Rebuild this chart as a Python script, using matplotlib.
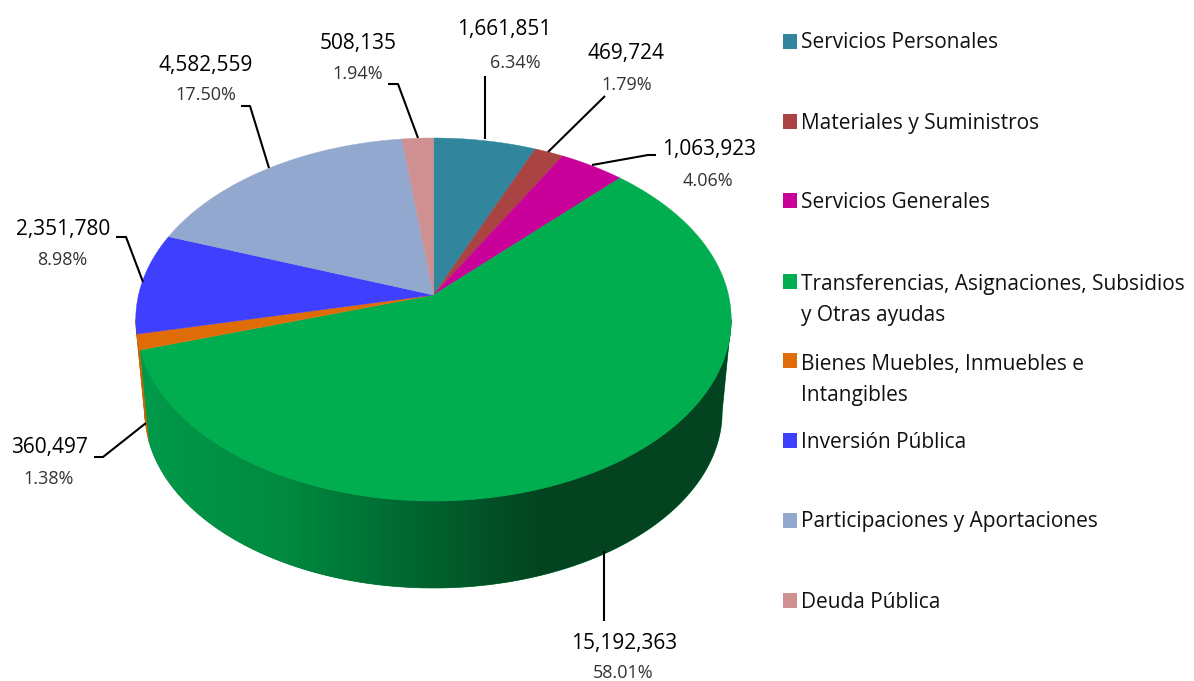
import numpy as np
import matplotlib
matplotlib.use("Agg")
import matplotlib.pyplot as plt
from matplotlib.colors import LinearSegmentedColormap
from matplotlib.patches import Polygon, Rectangle

plt.rcParams['font.family'] = ['Open Sans', 'DejaVu Sans']

categories = ["Servicios Personales", "Materiales y Suministros", "Servicios Generales",
              "Transferencias, Asignaciones, Subsidios\ny Otras ayudas",
              "Bienes Muebles, Inmuebles e\nIntangibles", "Inversión Pública",
              "Participaciones y Aportaciones", "Deuda Pública"]
values = [1661851, 469724, 1063923, 15192363, 360497, 2351780, 4582559, 508135]
percents = ["6.34%", "1.79%", "4.06%", "58.01%", "1.38%", "8.98%", "17.50%", "1.94%"]
colors = ["#31859C", "#A94442", "#C9009A", "#00AE4F", "#E06C08", "#3F3FFF", "#93A8CF", "#CE9090"]
side_colors = ["#24667a", "#803230", "#98007a", "#00803a", "#C86408", "#C86408", "#7080a8", "#a07070"]

# pixel positions of the labels and their leader lines
value_pos = [(504, 29), (626, 54), (709, 150), (624, 643), (49, 448), (63, 229), (206, 65), (358, 44)]
pct_pos = [(515, 63), (627, 85), (708, 181), (623, 673), (49, 479), (62, 260), (206, 95), (358, 74)]
leaders = [[(485, 76), (485, 139)],
           [(605, 96), (548, 152)],
           [(592, 165), (648, 155), (656, 155)],
           [(604, 551), (604, 621)],
           [(146, 423), (103, 457), (94, 457)],
           [(116, 237), (126, 237), (143, 282)],
           [(241, 106), (250, 106), (269, 168)],
           [(388, 84), (398, 84), (418, 138)]]
legend_y = [41, 121, 200, 281, 360, 440, 520, 600]
legend_text_y = [43, 123, 202, 300, 380, 442, 521, 602]

fig = plt.figure(figsize=(11.94, 6.81), dpi=100)
ax = fig.add_axes([0, 0, 1, 1])
ax.set_xlim(0, 1194)
ax.set_ylim(681, 0)
ax.axis("off")

K = 0.135


def project(t, radius=295, slant=178.2, cy=295):
    # circle seen in perspective, t clockwise from the top
    w = 1 + K * np.cos(t)
    return 433.5 + radius * np.sin(t) / w, cy - slant * np.cos(t) / w


def bot_pts(t):
    return project(t, radius=286, slant=173, cy=388)


edges = np.concatenate([[0], np.cumsum(values)]) / sum(values) * 2 * np.pi
# wall only shows between the two points where the outline turns back
wall_from = np.arccos(-K)
wall_to = 2 * np.pi - wall_from

for i in range(len(values)):
    t0 = max(edges[i], wall_from)
    t1 = min(edges[i + 1], wall_to)
    if t1 <= t0:
        continue
    t = np.linspace(t0, t1, 200)
    xt, yt = project(t)
    xb, yb = bot_pts(t)
    pts = np.column_stack([np.r_[xt, xb[::-1]], np.r_[yt, yb[::-1]]])
    poly = Polygon(pts, closed=True, fc=side_colors[i], ec=side_colors[i], lw=0.5, zorder=1)
    ax.add_patch(poly)
    if i == 3:
        green_cmap = LinearSegmentedColormap.from_list(
            "wall", [(0, "#009A4A"), (0.35, "#008A40"), (0.64, "#006A32"), (1, "#03431F")])
        grad = np.linspace(0, 1, 400).reshape(1, -1)
        im = ax.imshow(grad, cmap=green_cmap, extent=(140, 545, 600, 300), aspect="auto", zorder=1.5)
        im.set_clip_path(poly)
        # flat dark part on the right
        im2 = ax.imshow(np.ones((1, 2)), cmap=LinearSegmentedColormap.from_list("d", ["#03431F", "#03431F"]),
                        extent=(545, 740, 600, 300), aspect="auto", zorder=1.5)
        im2.set_clip_path(poly)
ax.set_xlim(0, 1194)
ax.set_ylim(681, 0)

# top face
for i in range(len(values)):
    t = np.linspace(edges[i], edges[i + 1], 200)
    xt, yt = project(t)
    pts = np.column_stack([np.r_[433.5, xt], np.r_[295, yt]])
    ax.add_patch(Polygon(pts, closed=True, fc=colors[i], ec=colors[i], lw=0.3, zorder=2))

for i in range(len(values)):
    lx, ly = zip(*leaders[i])
    ax.plot(lx, ly, color="black", lw=1.5, zorder=3, solid_capstyle="butt")
    ax.text(value_pos[i][0], value_pos[i][1], f"{values[i]:,}", fontsize=15, color="black",
            ha="center", va="center", zorder=4)
    ax.text(pct_pos[i][0], pct_pos[i][1], percents[i], fontsize=13, color="#333333",
            ha="center", va="center", zorder=4)
    ax.add_patch(Rectangle((783, legend_y[i] - 7.5), 14, 15, fc=colors[i], ec="none", zorder=3))
    ax.text(801, legend_text_y[i], categories[i], fontsize=15, color="#111111", ha="left", va="center",
            linespacing=1.6, zorder=4)

fig.savefig("out.png", dpi=100, facecolor="white")
